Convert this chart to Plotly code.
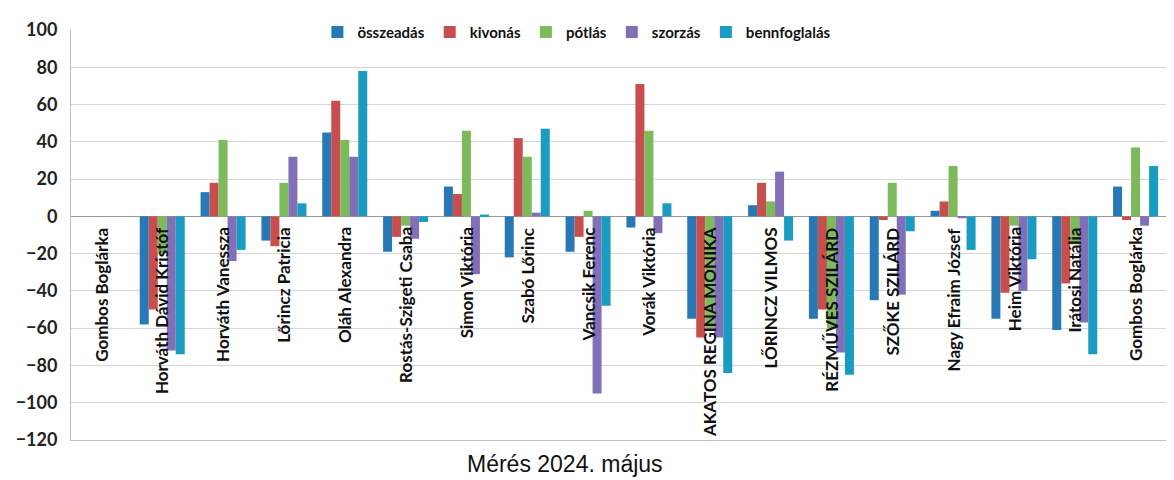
import plotly.graph_objects as go

names = ["Gombos Boglárka", "Horváth Dávid Kristóf", "Horváth Vanessza", "Lőrincz Patricia",
         "Oláh Alexandra", "Rostás-Szigeti Csaba", "Simon Viktória", "Szabó Lőrinc",
         "Vancsik Ferenc", "Vorák Viktória", "AKATOS REGINA MONIKA", "LŐRINCZ VILMOS",
         "RÉZMŰVES SZILÁRD", "SZŐKE SZILÁRD", "Nagy Efraim József", "Heim Viktória",
         "Irátosi Natália", "Gombos Boglárka"]

osszeadas    = [0, -58, 13, -13, 45, -19, 16, -22, -19, -6, -55, 6, -55, -45, 3, -55, -61, 16]
kivonas      = [0, -50, 18, -16, 62, -11, 12, 42, -11, 71, -65, 18, -50, -2, 8, -41, -36, -2]
potlas       = [0, -20, 41, 18, 41, -5, 46, 32, 3, 46, -60, 8, -60, 18, 27, -5, -15, 37]
szorzas      = [0, -72, -24, 32, 32, -12, -31, 2, -95, -9, -65, 24, -73, -42, -1, -40, -57, -5]
bennfoglalas = [0, -74, -18, 7, 78, -3, 1, 47, -48, 7, -84, -13, -85, -8, -18, -23, -74, 27]

series = [
    ("összeadás", osszeadas, "#2878b6"),
    ("kivonás", kivonas, "#c64f4d"),
    ("pótlás", potlas, "#7dba5b"),
    ("szorzás", szorzas, "#8270b6"),
    ("bennfoglalás", bennfoglalas, "#1a9bc1"),
]

yticks = [-120, -100, -80, -60, -40, -20, 0, 20, 40, 60, 80, 100]

x = list(range(len(names)))

fig = go.Figure()
for nm, vals, col in series:
    fig.add_trace(go.Bar(x=x, y=vals, name=nm, marker=dict(color=col, line=dict(width=0))))

for i, nm in enumerate(names):
    fig.add_annotation(x=i, y=0, xref="x", yref="y", text=nm, textangle=-90,
                       showarrow=False, xanchor="center", yanchor="top", yshift=-9,
                       font=dict(family="Lato", size=17, color="#111111", weight="bold"))

fig.add_annotation(x=0.451, y=-0.058, xref="paper", yref="paper", text="Mérés 2024. május",
                   showarrow=False, xanchor="center", yanchor="middle",
                   font=dict(family="Liberation Sans", size=23, color="#111111"))

fig.update_layout(
    width=1166, height=472,
    margin=dict(l=59, r=8, t=11, b=40),
    paper_bgcolor="white", plot_bgcolor="white",
    barmode="group", bargap=0.26, bargroupgap=0,
    showlegend=True,
    legend=dict(orientation="h", x=0.462, xanchor="center", y=1.035, yanchor="top",
                font=dict(family="Lato", size=15, color="#111111", weight="bold"),
                bgcolor="rgba(0,0,0,0)", itemwidth=30, tracegroupgap=0),
    xaxis=dict(range=[-0.5, len(names) - 0.5], showticklabels=False, ticks="",
               showgrid=False, zeroline=False, showline=True, linecolor="#bfbfbf", linewidth=1),
    yaxis=dict(range=[-120, 100], tickvals=yticks, ticks="", showgrid=True,
               gridcolor="#d6d6d6", gridwidth=1, zeroline=True, zerolinecolor="#9a9a9a",
               zerolinewidth=1, showline=True, linecolor="#bfbfbf", linewidth=1,
               ticklabelstandoff=9,
               tickfont=dict(family="Lato", size=18, color="#222222", weight="bold")),
)

fig.write_html("out.html")
